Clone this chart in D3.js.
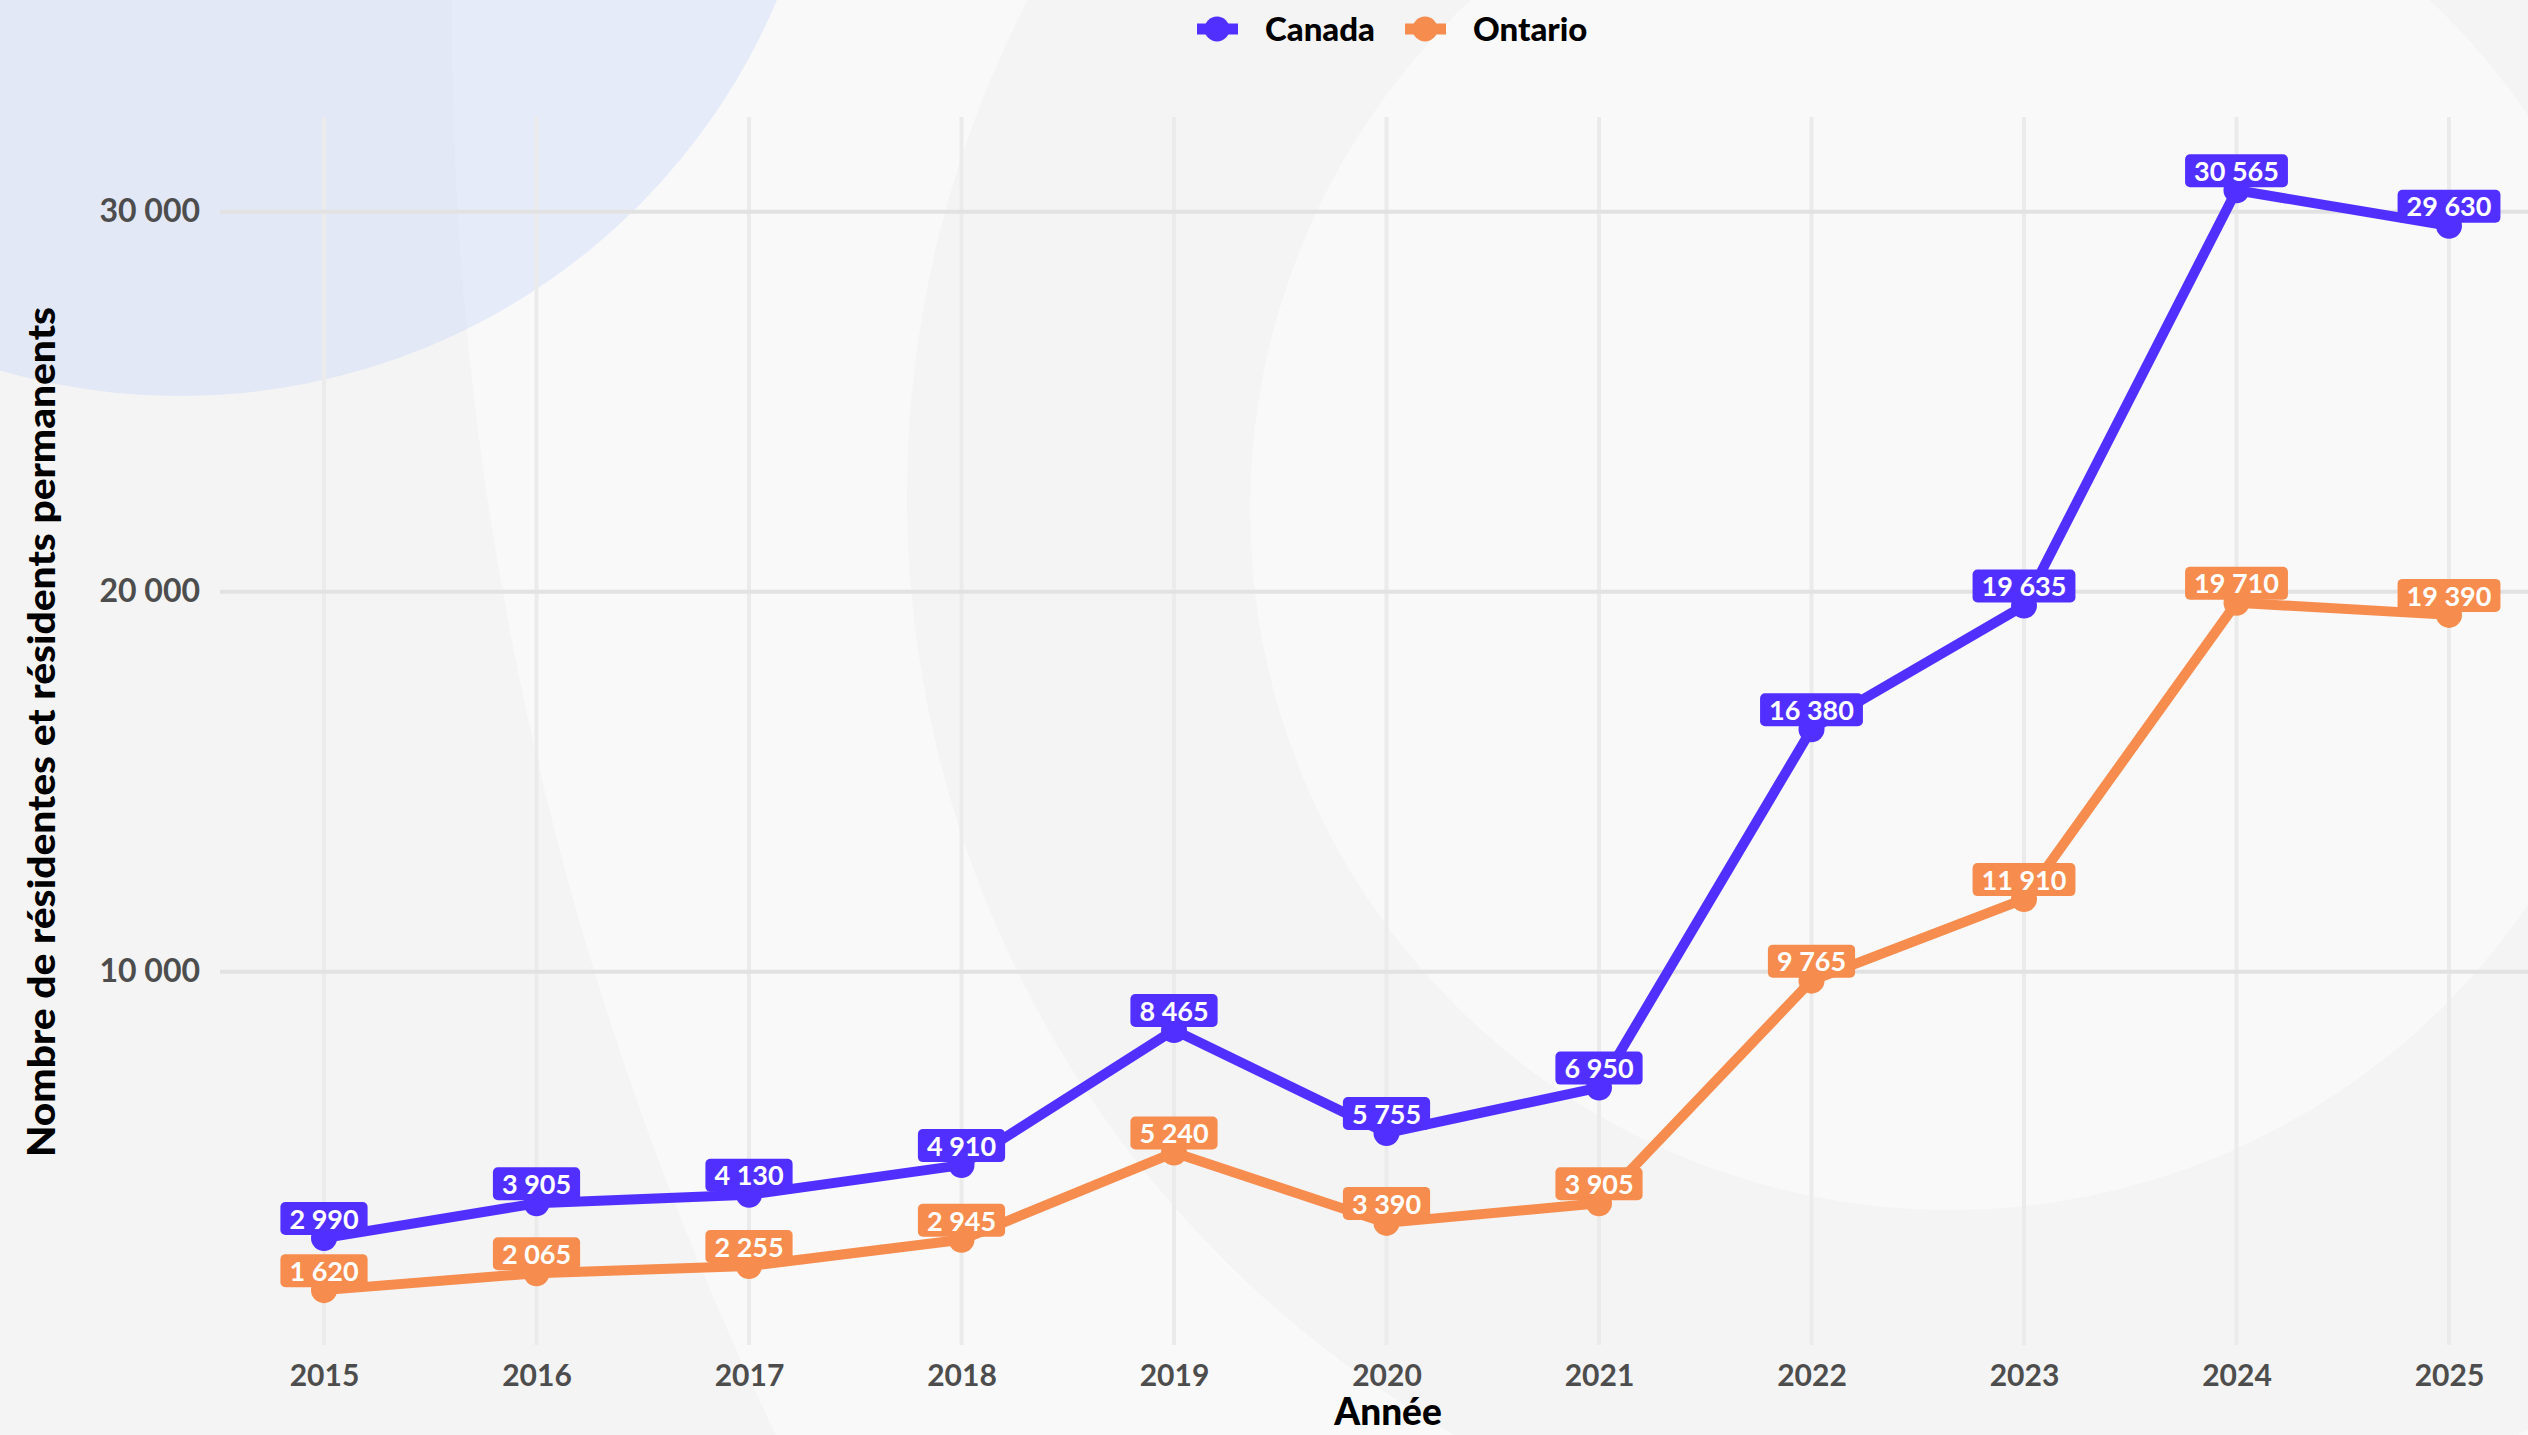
<!DOCTYPE html>
<html>
<head>
<meta charset="utf-8">
<script src="https://cdn.jsdelivr.net/npm/d3@7"></script>
<style>
  html, body { margin: 0; padding: 0; background: #f4f4f4; }
  svg { display: block; font-family: Lato, "Open Sans", sans-serif; }
</style>
</head>
<body>
<div id="container"></div>
<script>
const years = [2015, 2016, 2017, 2018, 2019, 2020, 2021, 2022, 2023, 2024, 2025];
const canada = [2990, 3905, 4130, 4910, 8465, 5755, 6950, 16380, 19635, 30565, 29630];
const ontario = [1620, 2065, 2255, 2945, 5240, 3390, 3905, 9765, 11910, 19710, 19390];
const seriesNames = ['Canada', 'Ontario'];
const yTicks = [10000, 20000, 30000];

const width = 2528, height = 1435;
const color = d3.scaleOrdinal(seriesNames, ['#5130ff', '#f68c4e']);
const fmt = v => d3.format(',')(v).replace(/,/g, ' ');

const x = d3.scalePoint(years, [324, 2449]);
const y = d3.scaleLinear([0, 30000], [1351.7, 211.7]);
const plotTop = 117, plotBottom = 1345, plotLeft = 220;

const svg = d3.select('#container').append('svg')
  .attr('width', width)
  .attr('height', height)
  .attr('viewBox', [0, 0, width, height]);

// -- decorative background
const bg = svg.append('g');
bg.append('rect').attr('width', width).attr('height', height).attr('fill', '#f4f4f4');
bg.append('circle').attr('cx', 3709).attr('cy', 19).attr('r', 3257).attr('fill', '#f9f9f9');
bg.append('circle').attr('cx', 1986).attr('cy', 496).attr('r', 1079).attr('fill', '#f4f4f4');
bg.append('circle').attr('cx', 1950).attr('cy', 510).attr('r', 700).attr('fill', '#f9f9f9');
bg.append('circle').attr('cx', 180).attr('cy', -252).attr('r', 648).attr('fill', 'rgba(176,196,255,0.25)');

// -- grid
svg.append('g')
  .attr('stroke', '#ebebeb')
  .attr('stroke-width', 4)
  .selectAll('line')
  .data(years)
  .join('line')
  .attr('x1', d => x(d)).attr('x2', d => x(d))
  .attr('y1', plotTop).attr('y2', plotBottom);

svg.append('g')
  .attr('stroke', '#e2e2e2')
  .attr('stroke-width', 4)
  .selectAll('line')
  .data(yTicks)
  .join('line')
  .attr('x1', plotLeft).attr('x2', width)
  .attr('y1', d => y(d)).attr('y2', d => y(d));

// -- axes
const yAxis = svg.append('g')
  .attr('transform', `translate(${plotLeft},0)`)
  .call(d3.axisLeft(y).tickValues(yTicks).tickFormat(fmt).tickSize(0).tickPadding(20));
yAxis.select('.domain').remove();
yAxis.selectAll('text')
  .attr('fill', '#4d4d4d')
  .attr('font-size', 32)
  .attr('font-weight', 700)
  .attr('font-family', 'Lato, sans-serif');

const xAxis = svg.append('g')
  .attr('transform', `translate(0,1375)`)
  .call(d3.axisBottom(x).tickSize(0).tickPadding(0));
xAxis.select('.domain').remove();
xAxis.selectAll('text')
  .attr('dy', '0.35em')
  .attr('fill', '#4d4d4d')
  .attr('font-size', 30)
  .attr('font-weight', 700)
  .attr('font-family', 'Lato, sans-serif');

svg.append('text')
  .attr('x', 1388).attr('y', 1412)
  .attr('dy', '0.35em')
  .attr('text-anchor', 'middle')
  .attr('font-size', 37)
  .attr('font-weight', 900)
  .attr('fill', '#000')
  .text('Année');

svg.append('text')
  .attr('transform', 'translate(42,732) rotate(-90)')
  .attr('dy', '0.35em')
  .attr('text-anchor', 'middle')
  .attr('font-size', 38)
  .attr('font-weight', 900)
  .attr('fill', '#000')
  .attr('textLength', 850)
  .attr('lengthAdjust', 'spacingAndGlyphs')
  .text('Nombre de résidentes et résidents permanents');

// -- series
const series = [
  { name: 'Canada', values: canada },
  { name: 'Ontario', values: ontario }
];

const line = d3.line()
  .x((d, i) => x(years[i]))
  .y(d => y(d));

// draw Ontario first so Canada sits on top
const order = [series[1], series[0]];

svg.append('g')
  .attr('fill', 'none')
  .attr('stroke-width', 10)
  .attr('stroke-linejoin', 'round')
  .selectAll('path')
  .data(order)
  .join('path')
  .attr('stroke', d => color(d.name))
  .attr('d', d => line(d.values));

order.forEach(s => {
  const g = svg.append('g');
  const pts = s.values.map((v, i) => ({ x: x(years[i]), y: y(v), v }));

  g.selectAll('circle')
    .data(pts)
    .join('circle')
    .attr('cx', d => d.x)
    .attr('cy', d => d.y)
    .attr('r', 13)
    .attr('fill', color(s.name));

  const labels = g.selectAll('g.lbl')
    .data(pts)
    .join('g')
    .attr('class', 'lbl')
    .attr('transform', d => `translate(${d.x},${d.y - 3})`);

  labels.append('rect').attr('fill', color(s.name)).attr('rx', 5);
  const texts = labels.append('text')
    .attr('text-anchor', 'middle')
    .attr('y', -16)
    .attr('dy', '0.36em')
    .attr('font-size', 27)
    .attr('font-weight', 700)
    .attr('fill', '#fff')
    .text(d => fmt(d.v));

  texts.each(function (d) {
    const w = this.getComputedTextLength() + 18;
    d3.select(this.previousSibling)
      .attr('x', -w / 2)
      .attr('y', -33)
      .attr('width', w)
      .attr('height', 33);
  });
});

// -- legend
const legend = svg.append('g')
  .selectAll('g')
  .data(seriesNames)
  .join('g')
  .attr('transform', (d, i) => `translate(${1217 + i * 208},29)`);

legend.append('line')
  .attr('x1', -20).attr('x2', 21)
  .attr('stroke', d => color(d))
  .attr('stroke-width', 11);
legend.append('circle')
  .attr('r', 12.5)
  .attr('fill', d => color(d));
legend.append('text')
  .attr('x', 48)
  .attr('dy', '0.35em')
  .attr('font-size', 33)
  .attr('font-weight', 900)
  .attr('fill', '#000')
  .text(d => d);
</script>
</body>
</html>
